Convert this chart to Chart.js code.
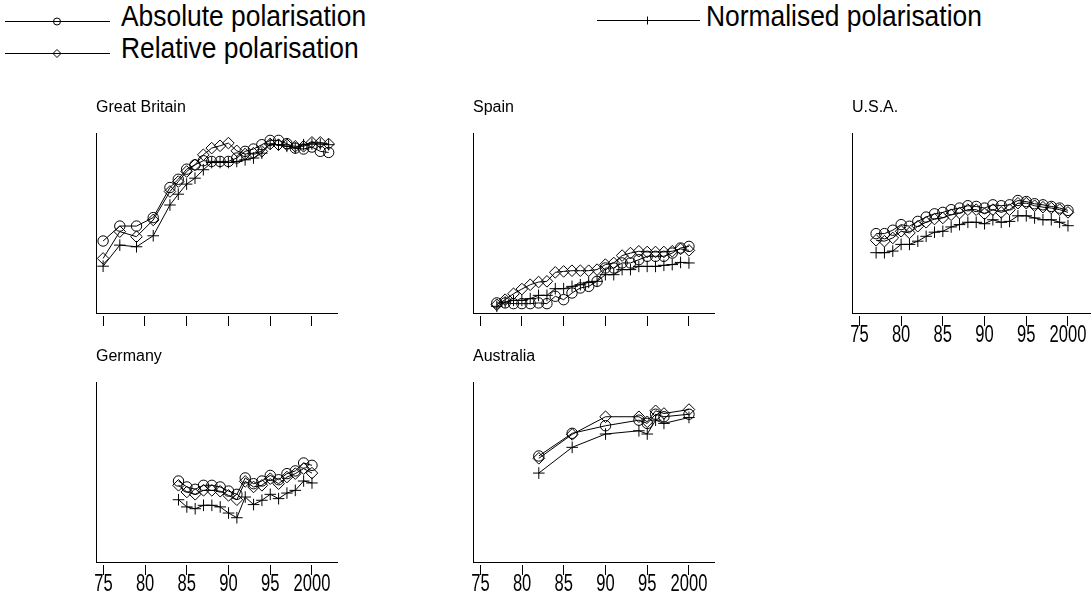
<!DOCTYPE html>
<html><head><meta charset="utf-8">
<script src="https://cdn.jsdelivr.net/npm/chart.js@4/dist/chart.umd.min.js"></script>
<style>
html,body{margin:0;padding:0;background:#fff;}
body{width:1091px;height:601px;overflow:hidden;position:relative;}
.panel{position:absolute;}
.legtext{position:absolute;font-family:"Liberation Sans",Arial,sans-serif;font-size:30px;line-height:1;color:#000;white-space:nowrap;transform:scaleX(0.88);transform-origin:0 0;}
svg{position:absolute;overflow:visible;}
</style></head><body>

<svg style="left:0;top:0" width="120" height="70">
  <line x1="5" y1="21.5" x2="110" y2="21.5" stroke="#000" stroke-width="1"/>
  <circle cx="57" cy="21.5" r="3.5" fill="none" stroke="#000" stroke-width="1"/>
  <line x1="5" y1="53.5" x2="110" y2="53.5" stroke="#000" stroke-width="1"/>
  <path d="M53 53.5 L57 49.5 L61 53.5 L57 57.5 Z" fill="none" stroke="#000" stroke-width="1"/>
</svg>
<div class="legtext" style="left:121px;top:1px">Absolute polarisation</div>
<div class="legtext" style="left:121px;top:33px">Relative polarisation</div>
<svg style="left:595px;top:0" width="110" height="40">
  <line x1="2" y1="20.5" x2="105" y2="20.5" stroke="#000" stroke-width="1"/>
  <line x1="52.5" y1="16.5" x2="52.5" y2="24.5" stroke="#000" stroke-width="1"/>
</svg>
<div class="legtext" style="left:706px;top:1px">Normalised polarisation</div>

<div class="panel" style="left:92px;top:95px"><canvas id="gb" width="249" height="258"></canvas></div>
<div class="panel" style="left:469px;top:95px"><canvas id="es" width="249" height="258"></canvas></div>
<div class="panel" style="left:848px;top:95px"><canvas id="us" width="249" height="258"></canvas></div>
<div class="panel" style="left:92px;top:344px"><canvas id="de" width="249" height="258"></canvas></div>
<div class="panel" style="left:469px;top:344px"><canvas id="au" width="249" height="258"></canvas></div>

<script>
// ---- data ----
const tickValues = [1975, 1980, 1985, 1990, 1995, 2000];
const tickLabels = ['75', '80', '85', '90', '95', '2000'];
const seriesNames = ['Absolute polarisation', 'Relative polarisation', 'Normalised polarisation'];

const gbYears = [1975,1977,1979,1981,1983,1984,1985,1986,1987,1988,1989,1990,1991,1992,1993,1994,1995,1996,1997,1998,1999,2000,2001,2002];
const gbAbs  = [40.0,48.3,48.3,53.0,69.7,74.3,79.9,82.3,84.6,84.2,84.2,84.2,86.1,89.8,91.1,93.5,95.9,95.9,94.1,91.6,91.1,92.2,89.8,89.2];
const gbRel  = [30.3,45.2,42.4,51.7,67.5,73.0,78.6,82.3,87.9,91.6,92.9,94.4,90.1,88.3,88.8,89.8,93.9,93.5,93.5,92.6,92.6,94.8,94.8,93.9];
const gbNorm = [26.0,37.7,36.8,42.9,60.0,66.0,71.6,74.9,79.6,83.6,83.6,83.6,84.2,85.1,86.1,88.8,93.9,93.5,92.6,91.6,93.5,93.9,93.9,93.5];

const esYears = [1977,1978,1979,1980,1981,1982,1983,1984,1985,1986,1987,1988,1989,1990,1991,1992,1993,1994,1995,1996,1997,1998,1999,2000];
const esAbs  = [5.6,5.6,5.2,5.2,5.2,5.6,5.2,9.3,7.4,11.1,13.9,14.8,17.6,25.0,25.0,27.8,27.8,29.6,31.5,31.5,31.5,33.3,36.1,37.0];
const esRel  = [4.6,7.4,10.7,13.3,15.7,17.2,17.6,22.6,23.1,23.5,23.5,23.5,24.1,26.9,27.8,31.9,33.3,34.3,33.9,33.9,33.9,34.3,35.6,34.8];
const esNorm = [3.7,6.1,7.0,7.0,8.0,9.8,9.8,13.5,13.5,14.8,15.7,17.0,17.6,21.3,21.3,24.1,24.1,25.9,25.9,25.9,26.5,26.9,28.1,27.8];

const usYears = [1977,1978,1979,1980,1981,1982,1983,1984,1985,1986,1987,1988,1989,1990,1991,1992,1993,1994,1995,1996,1997,1998,1999,2000];
const usAbs  = [44.1,44.1,46.0,49.1,48.2,50.9,53.3,55.1,55.9,57.4,58.3,59.6,59.2,58.3,60.1,59.6,60.1,62.5,61.9,60.7,60.1,59.2,58.3,57.0];
const usRel  = [40.4,39.9,41.7,45.4,44.5,48.2,50.4,52.2,52.8,54.6,55.5,57.4,57.4,55.1,57.4,55.9,57.4,61.0,61.0,59.6,58.8,58.3,57.4,55.9];
const usNorm = [33.5,33.5,34.4,38.1,38.1,39.9,42.6,44.9,45.4,47.8,49.1,50.4,50.4,49.6,51.8,50.4,50.9,54.0,54.0,52.8,51.8,51.8,50.4,48.5];

const deYears = [1984,1985,1986,1987,1988,1989,1990,1991,1992,1993,1994,1995,1996,1997,1998,1999,2000];
const deAbs  = [45.0,41.7,40.4,42.6,42.6,41.7,39.4,37.6,46.7,43.5,45.0,48.1,45.7,49.1,50.6,55.0,53.7];
const deRel  = [42.6,38.9,37.6,39.8,39.8,39.3,37.0,34.6,44.8,41.7,42.6,46.3,43.5,47.2,49.1,51.9,49.4];
const deNorm = [34.6,30.6,29.6,31.5,31.5,30.6,27.2,24.6,36.1,31.9,34.3,37.6,35.2,38.3,39.8,45.0,43.9];

const auYears = [1982,1986,1990,1994,1995,1996,1997,2000];
const auAbs  = [58.9,71.5,75.7,78.8,77.0,82.1,80.7,82.1];
const auRel  = [57.6,70.9,80.7,80.7,77.9,84.0,82.5,84.7];
const auNorm = [49.4,63.7,71.1,72.9,71.1,78.8,77.0,80.3];

// ---- panels ----
const panels = [
  {id:'gb', title:'Great Britain', years:gbYears, series:[gbAbs, gbRel, gbNorm], showLabels:false},
  {id:'es', title:'Spain',         years:esYears, series:[esAbs, esRel, esNorm], showLabels:false},
  {id:'us', title:'U.S.A.',        years:usYears, series:[usAbs, usRel, usNorm], showLabels:true},
  {id:'de', title:'Germany',       years:deYears, series:[deAbs, deRel, deNorm], showLabels:true},
  {id:'au', title:'Australia',     years:auYears, series:[auAbs, auRel, auNorm], showLabels:true}
];

const markerStyles = [
  {pointStyle:'circle',  pointRadius:5.2},
  {pointStyle:'rectRot', pointRadius:5.8},
  {pointStyle:'cross',   pointRadius:5.8}
];

const TICK_FONT_SIZE = 23;
const TICK_CONDENSE = 0.72;   // tick labels in the original use a condensed face

panels.forEach(p => {
  const canvas = document.getElementById(p.id);
  const ctx = canvas.getContext('2d');
  const origFill = ctx.fillText;
  ctx.fillText = function (text, x, y, maxWidth) {
    if (this.font.indexOf(TICK_FONT_SIZE + 'px') !== -1) {
      this.save();
      this.translate(x, y);
      this.scale(TICK_CONDENSE, 1);
      origFill.call(this, text, 0, 0);
      this.restore();
    } else if (maxWidth === undefined) {
      origFill.call(this, text, x, y);
    } else {
      origFill.call(this, text, x, y, maxWidth);
    }
  };

  const datasets = p.series.map((vals, k) => ({
    label: seriesNames[k],
    data: p.years.map((yr, i) => ({x: yr, y: vals[i]})),
    borderColor: '#000',
    borderWidth: 1,
    backgroundColor: 'rgba(0,0,0,0)',
    pointBorderColor: '#000',
    pointBackgroundColor: 'rgba(0,0,0,0)',
    pointBorderWidth: 1,
    pointStyle: markerStyles[k].pointStyle,
    pointRadius: markerStyles[k].pointRadius,
    tension: 0,
    fill: false,
    clip: false
  }));
  new Chart(canvas, {
    type: 'line',
    data: {datasets},
    options: {
      responsive: false,
      animation: false,
      devicePixelRatio: 1,
      events: [],
      layout: {padding: {left: 4, right: 4, top: 0, bottom: 0}, autoPadding: false},
      plugins: {
        legend: {display: false},
        tooltip: {enabled: false},
        title: {
          display: true, text: p.title, align: 'start', color: '#000',
          font: {family: '"Liberation Sans", Arial, sans-serif', size: 16, weight: 'normal', lineHeight: 1.2},
          padding: {top: 3, bottom: 15.8}
        }
      },
      scales: {
        x: {
          type: 'linear', min: 1974.15, max: 2003,
          afterBuildTicks: s => { s.ticks = tickValues.map(v => ({value: v})); },
          afterFit: s => { s.height = 40; },
          ticks: {
            callback: (v, i) => p.showLabels ? tickLabels[i] : '',
            color: '#000', padding: -1.5, maxRotation: 0, autoSkip: false,
            font: {family: '"Liberation Sans", Arial, sans-serif', size: TICK_FONT_SIZE, lineHeight: 1}
          },
          grid: {display: true, drawOnChartArea: false, drawTicks: true, tickLength: 13,
                 color: '#000', lineWidth: 1, tickBorderDash: [0, 2, 11, 60]},
          border: {display: true, color: '#000', width: 1}
        },
        y: {
          type: 'linear', min: 0, max: 100,
          afterFit: s => { s.width = 0; },
          ticks: {display: false},
          grid: {display: false},
          border: {display: true, color: '#000', width: 1}
        }
      }
    }
  });
});
</script>
</body></html>
